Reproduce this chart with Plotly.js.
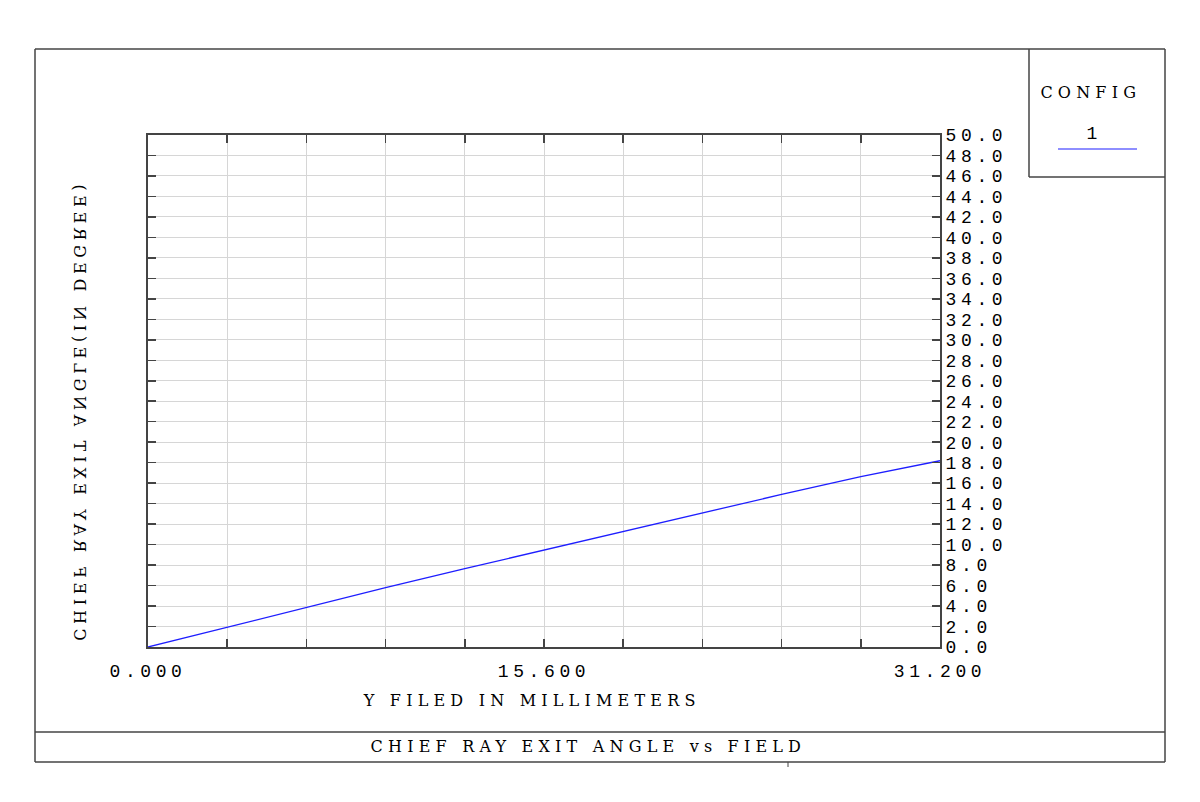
<!DOCTYPE html>
<html>
<head>
<meta charset="utf-8">
<script src="https://cdn.plot.ly/plotly-3.0.1.min.js"></script>
<style>
  html, body { margin: 0; padding: 0; background: #fff; }
  #chart { width: 1200px; height: 802px; }
  .main-svg .xtick text, .main-svg .ytick text { letter-spacing: 4.6px; }
  .main-svg .annotation-text { letter-spacing: 5.2px; }
</style>
</head>
<body>
<div id="chart"></div>
<script>
// Data
const fieldMM = [0, 3.12, 6.24, 9.36, 12.48, 15.6, 18.72, 21.84, 24.96, 28.08, 31.2];
const exitAngleDeg = [0, 1.95, 3.87, 5.79, 7.65, 9.47, 11.30, 13.12, 14.90, 16.63, 18.19];

const xTickVals = [0, 3.12, 6.24, 9.36, 12.48, 15.6, 18.72, 21.84, 24.96, 28.08, 31.2];
const xTickText = ['0.000', '', '', '', '', '15.600', '', '', '', '', '31.200'];
const yTickVals = [0, 2, 4, 6, 8, 10, 12, 14, 16, 18, 20, 22, 24, 26, 28, 30, 32, 34, 36, 38, 40, 42, 44, 46, 48, 50];

const xTitle = 'Y FILED IN MILLIMETERS';
const yTitle = 'CHIEF RAY EXIT ANGLE(IN DEGREE)';
const plotTitle = 'CHIEF RAY EXIT ANGLE vs FIELD';
const legendTitle = 'CONFIG';
const legendEntry = '1';

const MONO = '"Liberation Mono", "Courier New", monospace';
const SERIF = '"DejaVu Serif", "Liberation Serif", serif';
const FRAME = '#444444';

// pixel -> paper helpers (plot area: x 148..940, y 135..647)
const L = 148, R = 940, T = 135, B = 647;
const px = v => (v - L) / (R - L);
const py = v => (B - v) / (B - T);

const trace = {
  x: fieldMM,
  y: exitAngleDeg,
  type: 'scatter',
  mode: 'lines',
  line: { color: 'rgb(30,30,255)', width: 1.3 },
  showlegend: false,
  hoverinfo: 'skip'
};

function seg(x0, y0, x1, y1, color, width) {
  return { type: 'line', xref: 'paper', yref: 'paper',
    x0: px(x0), y0: py(y0), x1: px(x1), y1: py(y1),
    line: { color: color, width: width } };
}

const shapes = [
  seg(35, 49, 1165, 49, FRAME, 1.5),
  seg(35, 49, 35, 762, FRAME, 1.5),
  seg(1165, 49, 1165, 762, FRAME, 1.5),
  seg(35, 762, 1165, 762, FRAME, 1.5),
  seg(35, 732, 1165, 732, FRAME, 1.5),
  seg(1029, 49, 1029, 177, FRAME, 1.5),
  seg(1029, 177, 1165, 177, FRAME, 1.5),
  seg(788, 762, 788, 767, FRAME, 1),
  seg(1058, 149, 1137, 149, 'rgb(30,30,255)', 1.2)
];

const TSZ = 18;   // tick font size
const ASZ = 16;   // title font size

const annotations = [
  { text: xTitle, xref: 'paper', yref: 'paper', x: px(531), y: py(700),
    showarrow: false, xanchor: 'center', yanchor: 'middle',
    font: { family: SERIF, size: ASZ, color: '#000' } },
  { text: plotTitle, xref: 'paper', yref: 'paper', x: px(588), y: py(746),
    showarrow: false, xanchor: 'center', yanchor: 'middle',
    font: { family: SERIF, size: ASZ, color: '#000' } },
  { text: legendTitle, xref: 'paper', yref: 'paper', x: px(1091), y: py(92),
    showarrow: false, xanchor: 'center', yanchor: 'middle',
    font: { family: SERIF, size: ASZ, color: '#000' } },
  { text: legendEntry, xref: 'paper', yref: 'paper', x: px(1094), y: py(134),
    showarrow: false, xanchor: 'center', yanchor: 'middle',
    font: { family: MONO, size: TSZ, color: '#000' } },
  { text: yTitle, xref: 'paper', yref: 'paper', x: px(79), y: py(411),
    showarrow: false, xanchor: 'center', yanchor: 'middle', textangle: -90,
    font: { family: SERIF, size: ASZ, color: '#000' } }
];

const layout = {
  width: 1200,
  height: 802,
  margin: { l: L, r: 1200 - R, t: T, b: 802 - B, pad: 0 },
  paper_bgcolor: '#ffffff',
  plot_bgcolor: '#ffffff',
  showlegend: false,
  font: { family: MONO, size: TSZ, color: '#000' },
  xaxis: {
    range: [0, 31.2],
    tickmode: 'array',
    tickvals: xTickVals,
    ticktext: xTickText,
    ticks: 'inside',
    ticklen: 8,
    tickwidth: 1.5,
    tickcolor: FRAME,
    showline: true,
    linecolor: FRAME,
    linewidth: 2,
    mirror: 'ticks',
    showgrid: true,
    gridcolor: '#d6d6d6',
    gridwidth: 1,
    zeroline: false,
    ticklabelstandoff: 6,
    tickfont: { family: MONO, size: TSZ, color: '#000' },
    fixedrange: true
  },
  yaxis: {
    range: [0, 50],
    side: 'right',
    tickmode: 'array',
    tickvals: yTickVals,
    tickformat: '.1f',
    ticks: 'inside',
    ticklen: 8,
    tickwidth: 1.5,
    tickcolor: FRAME,
    showline: true,
    linecolor: FRAME,
    linewidth: 2,
    mirror: 'ticks',
    showgrid: true,
    gridcolor: '#d6d6d6',
    gridwidth: 1,
    zeroline: false,
    ticklabelstandoff: 0,
    tickfont: { family: MONO, size: TSZ, color: '#000' },
    fixedrange: true
  },
  shapes: shapes,
  annotations: annotations
};

Plotly.newPlot('chart', [trace], layout, { displayModeBar: false, staticPlot: true }).then(() => {
  // mirror the y-axis title glyphs as in the reference
  document.querySelectorAll('.annotation-text').forEach(t => {
    if (t.textContent === yTitle) {
      t.style.letterSpacing = '4.7px';
      t.style.transformBox = 'fill-box';
      t.style.transformOrigin = 'center';
      t.style.transform = 'scaleY(-1)';
    }
  });
});
</script>
</body>
</html>
